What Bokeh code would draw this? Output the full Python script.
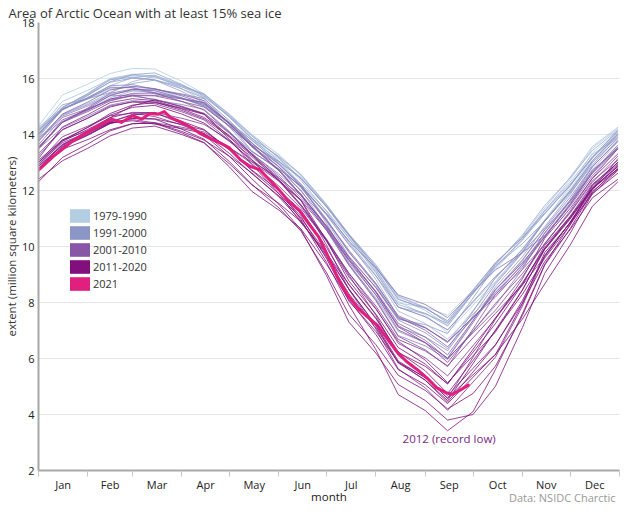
from bokeh.plotting import figure
from bokeh.models import FixedTicker, Legend, LegendItem, Label, Range1d, Title
from bokeh.embed import file_html
from bokeh.resources import INLINE

# ---------------- data (million km²) ----------------
DAYS = [0, 15, 31, 45, 59, 73, 90, 104, 120, 134, 151, 165, 181, 195, 212, 226,
        243, 257, 273, 287, 304, 318, 334, 348, 364]

y1979 = [14.30,15.41,15.80,16.18,16.36,16.34,15.90,15.45,14.66,13.86,13.20,12.53,11.42,10.31,9.18,8.04,7.55,6.93,7.90,8.75,9.85,10.94,12.14,13.34,14.10]
y1980 = [14.10,14.86,15.41,15.96,16.10,16.04,15.74,15.43,14.61,13.79,13.00,12.20,11.15,10.10,9.04,7.98,7.83,7.55,8.43,9.18,10.23,11.27,12.39,13.51,14.21]
y1981 = [14.21,14.91,15.26,15.60,15.72,15.63,15.32,15.01,14.41,13.80,13.12,12.43,11.41,10.38,9.11,7.84,7.49,7.02,8.00,8.86,9.91,10.95,12.05,13.15,14.17]
y1982 = [14.17,15.18,15.58,15.97,16.12,16.06,15.76,15.45,14.73,14.00,13.28,12.55,11.48,10.40,9.27,8.14,7.72,7.18,8.33,9.36,10.37,11.37,12.47,13.57,14.26]
y1983 = [14.26,14.94,15.47,16.00,16.15,16.09,15.64,15.18,14.41,13.63,13.05,12.47,11.46,10.45,9.35,8.24,7.82,7.27,8.32,9.24,10.27,11.30,12.30,13.29,13.88]
y1984 = [13.88,14.47,14.89,15.31,15.55,15.58,15.29,15.00,14.29,13.57,12.85,12.12,11.17,10.21,8.95,7.69,7.25,6.69,7.59,8.36,9.48,10.59,11.67,12.75,13.74]
y1985 = [13.74,14.72,15.11,15.49,15.89,16.08,15.71,15.33,14.65,13.97,13.16,12.35,11.25,10.15,8.82,7.49,7.10,6.58,7.71,8.71,9.81,10.90,11.95,13.00,13.95]
y1986 = [13.95,14.89,15.32,15.74,16.03,16.12,15.76,15.40,14.64,13.87,13.22,12.57,11.50,10.43,9.32,8.20,7.81,7.29,8.41,9.40,10.33,11.26,12.23,13.20,14.09]
y1987 = [14.09,14.97,15.46,15.95,16.05,15.95,15.70,15.45,14.70,13.95,13.18,12.41,11.41,10.40,9.17,7.93,7.61,7.16,8.32,9.36,10.41,11.46,12.45,13.43,14.16]
y1988 = [14.16,14.89,15.39,15.88,16.14,16.20,15.79,15.37,14.62,13.86,13.05,12.23,11.27,10.30,9.07,7.83,7.60,7.25,8.34,9.30,10.23,11.16,12.18,13.20,14.13]
y1989 = [14.13,15.06,15.28,15.50,15.82,15.94,15.54,15.13,14.26,13.39,12.77,12.14,10.98,9.82,8.61,7.40,7.21,6.89,8.16,9.30,10.10,10.90,11.99,13.07,14.02]
y1990 = [14.02,14.97,15.42,15.87,16.01,15.95,15.63,15.30,14.36,13.42,12.72,12.01,10.68,9.35,8.16,6.97,6.56,6.02,7.35,8.55,9.63,10.71,11.86,13.00,13.85]
y1991 = [13.85,14.70,15.07,15.43,15.57,15.50,15.29,15.08,14.44,13.80,12.97,12.13,10.90,9.66,8.52,7.37,6.92,6.35,7.68,8.88,9.90,10.91,11.91,12.91,13.90]
y1992 = [13.90,14.89,15.29,15.69,15.67,15.45,15.30,15.14,14.38,13.62,13.03,12.43,11.42,10.41,9.26,8.11,7.79,7.35,8.45,9.42,10.31,11.19,12.18,13.17,14.03]
y1993 = [14.03,14.89,15.32,15.74,15.78,15.62,15.45,15.28,14.49,13.69,12.95,12.21,10.82,9.43,8.28,7.13,6.77,6.28,7.53,8.65,9.78,10.91,11.98,13.05,13.99]
y1994 = [13.99,14.92,15.29,15.66,15.68,15.49,15.28,15.07,14.38,13.68,12.93,12.17,11.12,10.06,8.95,7.84,7.49,7.02,8.04,8.93,9.79,10.65,11.76,12.86,13.76]
y1995 = [13.76,14.66,15.02,15.38,15.41,15.23,15.07,14.90,14.11,13.31,12.59,11.87,10.63,9.38,8.10,6.82,6.45,5.96,6.99,7.89,9.19,10.49,11.61,12.73,13.49]
y1996 = [13.49,14.24,14.65,15.05,15.21,15.16,14.96,14.76,14.08,13.39,12.77,12.15,11.17,10.19,9.23,8.27,7.93,7.46,8.37,9.16,9.78,10.39,11.54,12.69,13.56]
y1997 = [13.56,14.43,14.95,15.47,15.62,15.56,15.30,15.03,14.31,13.59,12.85,12.10,10.95,9.79,8.66,7.53,7.11,6.57,7.48,8.27,9.37,10.47,11.66,12.84,13.79]
y1998 = [13.79,14.73,15.16,15.59,15.72,15.64,15.38,15.11,14.41,13.71,12.84,11.97,10.92,9.87,8.68,7.48,7.01,6.42,7.44,8.34,9.34,10.34,11.50,12.65,13.63]
y1999 = [13.63,14.61,14.92,15.22,15.41,15.40,15.27,15.14,14.38,13.62,12.74,11.85,10.69,9.53,8.36,7.18,6.65,6.00,7.28,8.44,9.52,10.59,11.61,12.62,13.54]
y2000 = [13.54,14.45,14.86,15.27,15.37,15.26,15.01,14.75,14.04,13.32,12.52,11.72,10.63,9.54,8.40,7.26,6.76,6.13,7.36,8.47,9.42,10.36,11.45,12.53,13.49]
y2001 = [13.49,14.44,14.92,15.39,15.61,15.62,15.42,15.21,14.39,13.56,12.71,11.85,10.74,9.63,8.54,7.44,7.09,6.61,7.46,8.19,9.27,10.34,11.49,12.63,13.53]
y2002 = [13.53,14.43,14.82,15.20,15.39,15.38,15.18,14.98,14.29,13.60,12.71,11.81,10.57,9.33,8.06,6.79,6.31,5.71,7.06,8.28,9.18,10.08,11.27,12.45,13.49]
y2003 = [13.49,14.52,14.89,15.26,15.47,15.48,15.18,14.87,14.07,13.27,12.46,11.65,10.58,9.50,8.26,7.02,6.57,6.00,6.92,7.72,8.92,10.11,11.20,12.29,13.23]
y2004 = [13.23,14.16,14.59,15.02,15.16,15.10,14.81,14.52,13.78,13.04,12.44,11.83,10.72,9.60,8.37,7.13,6.56,5.86,6.97,7.96,9.03,10.09,11.22,12.35,13.08]
y2005 = [13.08,13.81,14.13,14.45,14.72,14.79,14.58,14.36,13.79,13.21,12.35,11.48,10.26,9.04,7.79,6.54,6.02,5.38,6.46,7.42,8.66,9.90,11.03,12.16,12.94]
y2006 = [12.94,13.71,14.07,14.43,14.53,14.42,14.26,14.09,13.53,12.96,12.16,11.36,10.21,9.05,7.87,6.68,6.27,5.74,6.74,7.61,8.62,9.63,10.87,12.10,13.01]
y2007 = [13.01,13.92,14.30,14.67,14.76,14.64,14.34,14.03,13.53,13.02,12.33,11.63,10.05,8.46,7.05,5.63,4.95,4.15,5.16,6.04,7.87,9.69,10.85,12.01,13.14]
y2008 = [13.14,14.27,14.71,15.14,15.28,15.21,14.91,14.61,13.96,13.31,12.40,11.48,10.23,8.98,7.54,6.10,5.40,4.57,6.05,7.40,8.85,10.29,11.36,12.43,13.31]
y2009 = [13.31,14.18,14.58,14.98,15.17,15.16,14.86,14.56,13.91,13.26,12.35,11.44,10.18,8.91,7.76,6.61,5.94,5.14,6.10,6.94,8.44,9.94,11.08,12.22,13.00]
y2010 = [13.00,13.77,14.26,14.75,15.05,15.14,14.93,14.72,13.83,12.93,11.89,10.84,9.75,8.65,7.45,6.24,5.56,4.75,5.93,6.99,8.29,9.58,10.77,11.95,12.76]
y2011 = [12.76,13.57,13.99,14.40,14.58,14.56,14.36,14.16,13.44,12.71,11.89,11.07,9.56,8.05,6.96,5.87,5.22,4.44,5.52,6.47,8.07,9.66,10.86,12.05,12.91]
y2012 = [12.91,13.76,14.18,14.60,15.02,15.24,14.99,14.73,13.92,13.11,12.03,10.95,9.43,7.91,6.31,4.71,4.14,3.42,4.10,5.60,7.60,9.36,10.78,12.19,13.00]
y2013 = [13.00,13.80,14.25,14.69,14.97,15.04,14.73,14.41,13.75,13.09,12.37,11.65,10.21,8.77,7.58,6.39,5.80,5.09,6.33,7.45,8.70,9.94,11.01,12.07,12.86]
y2014 = [12.86,13.65,14.05,14.44,14.70,14.76,14.47,14.18,13.46,12.73,12.01,11.29,9.96,8.63,7.42,6.21,5.72,5.10,6.23,7.24,8.64,10.03,11.06,12.08,12.85]
y2015 = [12.85,13.61,14.01,14.41,14.49,14.37,14.21,14.04,13.32,12.60,11.81,11.01,9.75,8.48,7.16,5.84,5.23,4.50,5.82,7.01,8.45,9.89,10.98,12.07,12.77]
y2016 = [12.77,13.47,13.82,14.17,14.39,14.40,14.06,13.71,12.84,11.97,11.30,10.62,9.36,8.10,6.85,5.60,5.06,4.39,5.33,6.15,7.41,8.66,10.05,11.44,12.31]
y2017 = [12.31,13.18,13.66,14.13,14.38,14.42,14.11,13.80,13.22,12.63,11.77,10.91,9.61,8.31,7.09,5.86,5.33,4.68,5.65,6.49,7.98,9.46,10.60,11.74,12.40]
y2018 = [12.40,13.06,13.51,13.95,14.23,14.30,14.00,13.70,12.95,12.20,11.54,10.88,9.68,8.48,7.20,5.91,5.31,4.59,5.42,6.13,7.96,9.78,10.83,11.88,12.72]
y2019 = [12.72,13.55,13.97,14.39,14.57,14.55,14.19,13.83,13.03,12.22,11.38,10.54,9.06,7.58,6.49,5.40,4.86,4.20,4.75,5.72,7.53,9.33,10.64,11.95,12.79]
y2020 = [12.79,13.63,14.12,14.60,14.79,14.78,14.39,13.99,13.21,12.42,11.51,10.59,8.95,7.30,6.19,5.07,4.50,3.80,4.00,5.00,7.10,9.04,10.47,11.89,12.62]

DAYS_2021 = [0, 9, 22, 34, 46, 52, 59, 65, 70, 75, 79, 83, 90, 96, 102, 108, 114, 120, 127,
             133, 139, 145, 151, 157, 164, 170, 176, 182, 188, 194, 201, 207, 213, 219, 225,
             231, 238, 244, 250, 256, 260, 264, 270]
y2021 = [12.73, 13.20, 13.79, 14.20, 14.55, 14.43, 14.67, 14.55, 14.75, 14.72, 14.82, 14.60,
         14.43, 14.25, 14.02, 13.85, 13.70, 13.52, 13.09, 12.86, 12.74, 12.39, 12.03, 11.62,
         11.27, 10.80, 10.34, 9.64, 8.88, 8.28, 7.77, 7.47, 7.18, 6.71, 6.25, 5.90, 5.60,
         5.31, 4.96, 4.78, 4.72, 4.84, 5.05]

YEARS = list(range(1979, 2021))
SERIES = [y1979, y1980, y1981, y1982, y1983, y1984, y1985, y1986, y1987, y1988,
          y1989, y1990, y1991, y1992, y1993, y1994, y1995, y1996, y1997, y1998,
          y1999, y2000, y2001, y2002, y2003, y2004, y2005, y2006, y2007, y2008,
          y2009, y2010, y2011, y2012, y2013, y2014, y2015, y2016, y2017, y2018,
          y2019, y2020]

MONTHS = ["Jan", "Feb", "Mar", "Apr", "May", "Jun", "Jul", "Aug", "Sep", "Oct", "Nov", "Dec"]
MONTH_MID = [15.5, 45, 74.5, 105, 135.5, 166, 196.5, 227.5, 258, 288.5, 319, 349.5]
MONTH_EDGES = [0, 31, 59, 90, 120, 151, 181, 212, 243, 273, 304, 334, 365]
Y_TICKS = [2, 4, 6, 8, 10, 12, 14, 16, 18]

LEGEND_LABELS = ["1979-1990", "1991-2000", "2001-2010", "2011-2020", "2021"]
LEGEND_COLORS = ["#b3cde3", "#8c96c6", "#8856a7", "#810f7c", "#e0207c"]
ANCHOR_YEARS = [1979, 1991, 2001, 2011, 2020]

# ---------------- styling helpers ----------------
FONT = "Open Sans"


def hex_rgb(h):
    h = h.lstrip("#")
    return tuple(int(h[i:i + 2], 16) for i in (0, 2, 4))


def year_color(yr):
    anchors = [hex_rgb(c) for c in LEGEND_COLORS[:4]] + [hex_rgb(LEGEND_COLORS[3])]
    for i in range(len(ANCHOR_YEARS) - 1):
        a, b = ANCHOR_YEARS[i], ANCHOR_YEARS[i + 1]
        if a <= yr <= b:
            t = (yr - a) / (b - a)
            c0, c1 = anchors[i], anchors[i + 1]
            r, g, bl = (round(c0[k] + (c1[k] - c0[k]) * t) for k in range(3))
            return "#%02x%02x%02x" % (r, g, bl)
    return LEGEND_COLORS[3]


# ---------------- figure ----------------
p = figure(width=622, height=506, output_backend="svg", toolbar_location=None,
           x_range=Range1d(0, 365), y_range=Range1d(2, 18),
           min_border_left=30, min_border_right=3, min_border_top=8, min_border_bottom=36)
p.outline_line_color = None
p.background_fill_color = "white"

p.title.text = "Area of Arctic Ocean with at least 15% sea ice"
p.title.align = "left"
p.title.offset = -30
p.title.standoff = 2
p.title.text_font = FONT
p.title.text_font_size = "13px"
p.title.text_font_style = "normal"
p.title.text_color = "#333333"

for yr, vals in zip(YEARS, SERIES):
    p.line(DAYS, vals, line_color=year_color(yr), line_width=1, line_alpha=0.8)

p.line(DAYS_2021, y2021, line_color=LEGEND_COLORS[4], line_width=3, line_join="round",
       line_cap="round")

# axes
p.xaxis.ticker = FixedTicker(ticks=MONTH_MID, minor_ticks=MONTH_EDGES)
p.xaxis.major_label_overrides = {m: name for m, name in zip(MONTH_MID, MONTHS)}
p.xaxis.major_tick_line_color = None
p.xaxis.major_tick_out = 0
p.xaxis.major_tick_in = 0
p.xaxis.minor_tick_line_color = "#c8c8c8"
p.xaxis.minor_tick_out = 6
p.xaxis.minor_tick_in = 0
p.xaxis.major_label_standoff = 0

p.yaxis.ticker = FixedTicker(ticks=Y_TICKS)
p.yaxis.major_tick_line_color = None
p.yaxis.minor_tick_line_color = None
p.yaxis.major_tick_out = 0
p.yaxis.major_tick_in = 0
p.yaxis.major_label_standoff = 4
p.yaxis.axis_label = "extent (million square kilometers)"
p.yaxis.axis_label_standoff = 0
p.yaxis.axis_label_text_font_style = "normal"
p.yaxis.axis_label_text_font = FONT
p.yaxis.axis_label_text_font_size = "11.5px"
p.yaxis.axis_label_text_color = "#333333"

for ax in (p.xaxis[0], p.yaxis[0]):
    ax.axis_line_color = "#a8a8a8"
    ax.axis_line_width = 2
    ax.major_label_text_font = FONT
    ax.major_label_text_font_size = "11px"
    ax.major_label_text_color = "#222222"

p.xgrid.visible = False
p.ygrid.ticker = FixedTicker(ticks=Y_TICKS)
p.ygrid.grid_line_color = "#e6e6e6"
p.ygrid.grid_line_width = 1

# "month" and the data caption share one line below the month labels
month_title = Title(text="month", align="center", text_font=FONT, text_font_size="11.5px",
                    text_font_style="normal", text_color="#222222", standoff=-16)
caption = Title(text="Data: NSIDC Charctic", align="right", text_font=FONT,
                text_font_size="11px", text_font_style="normal", text_color="#999999",
                standoff=-16, offset=4)
p.add_layout(month_title, "below")
p.add_layout(caption, "below")

# legend (square swatches)
NAN = float("nan")
items = []
for lab, col in zip(LEGEND_LABELS, LEGEND_COLORS):
    r = p.quad(left=[NAN], right=[NAN], top=[NAN], bottom=[NAN], fill_color=col,
               line_color=None)
    items.append(LegendItem(label=lab, renderers=[r]))
legend = Legend(items=items, location=(29, 178), orientation="vertical",
                background_fill_alpha=0, border_line_color=None, padding=0, margin=0,
                spacing=0, glyph_width=25, glyph_height=17, label_height=17,
                label_standoff=1, label_text_font=FONT, label_text_font_size="11px",
                label_text_color="#333333")
p.add_layout(legend)

# annotation
p.add_layout(Label(x=258, y=3.15, text="2012 (record low)", text_align="center",
                   text_baseline="middle", text_font=FONT, text_font_size="11.5px",
                   text_color="#7b1f84"))

open("out.html", "w").write(file_html(p, INLINE))
